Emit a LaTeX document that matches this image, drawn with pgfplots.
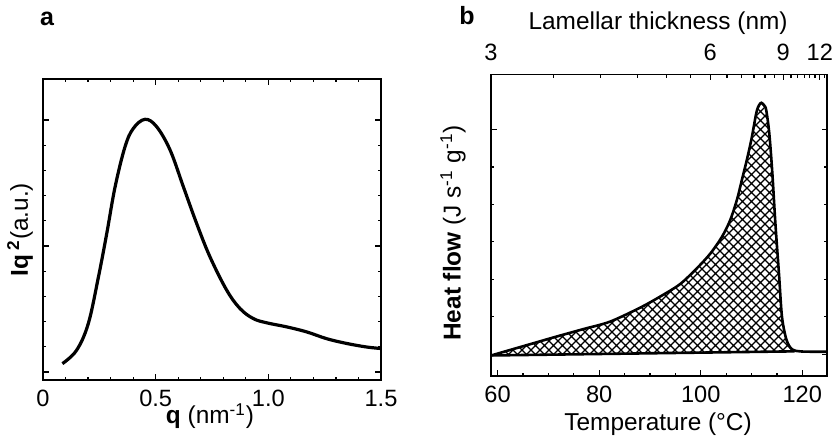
\documentclass[border=0pt]{standalone}
\usepackage{fontspec}
\setmainfont{Liberation Sans}
\usepackage{pgfplots}
\pgfplotsset{compat=1.18}
\usetikzlibrary{patterns}

\pgfdeclarepatternformonly{mycross}{\pgfqpoint{-0.5pt}{-0.5pt}}{\pgfqpoint{5pt}{5pt}}{\pgfqpoint{4.5pt}{4.5pt}}{
  \pgfsetlinewidth{0.7pt}
  \pgfpathmoveto{\pgfqpoint{-0.3pt}{-0.3pt}}\pgfpathlineto{\pgfqpoint{4.8pt}{4.8pt}}
  \pgfpathmoveto{\pgfqpoint{-0.3pt}{4.8pt}}\pgfpathlineto{\pgfqpoint{4.8pt}{-0.3pt}}
  \pgfusepath{stroke}
}

\pgfplotsset{
  common/.style={
    scale only axis,
    anchor=south west,
    tick align=inside,
    major tick length=2.8pt,
    minor tick length=1.6pt,
    axis line style={line width=0.8pt},
    every tick/.style={black, line width=0.6pt},
    /pgf/number format/assume math mode=true,
    ticklabel style={font=\fontsize{11.8}{13}\selectfont},
    label style={font=\fontsize{12.2}{14}\selectfont},
  }
}

\begin{document}
\begin{tikzpicture}
\useasboundingbox (0,0) rectangle (418pt,220pt);

% ---------------- panel a ----------------
\begin{axis}[common,
  at={(21.5pt,30pt)},
  width=169pt, height=150.5pt,
  xmin=0, xmax=1.5, ymin=-0.32, ymax=11.63,
  xtick={0,0.5,1,1.5}, xticklabels={0,0.5,1.0,1.5},
  minor x tick num=4,
  ytick={0,5,10}, yticklabels={}, minor y tick num=4,
  xticklabel style={yshift=-1.5pt},
  xlabel={\textbf{q} (nm\textsuperscript{-1})},
  ylabel={\textbf{Iq}\,\textsuperscript{\textbf{2}}(a.u.)},
  xlabel style={at={(axis description cs:0.494,-0.12)}, anchor=center},
  ylabel style={at={(axis description cs:-0.068,0.5)}, anchor=center},
]
\addplot[black, line width=1.6pt, smooth, tension=0.6] coordinates {
(0.086,0.33) (0.149,0.86) (0.201,1.92) (0.246,3.77) (0.283,5.5) (0.320,7.35)
(0.364,8.94) (0.401,9.67) (0.453,10.03) (0.504,9.74) (0.564,8.81) (0.623,7.35)
(0.682,5.89) (0.741,4.57) (0.815,3.25) (0.874,2.52) (0.933,2.12) (0.993,1.95)
(1.081,1.79) (1.170,1.59) (1.259,1.32) (1.348,1.13) (1.436,0.99) (1.5,0.93)
};
\end{axis}

% ---------------- panel b ----------------
\begin{axis}[common,
  at={(245.5pt,32.15pt)},
  width=168.1pt, height=150.5pt,
  xmin=58.7, xmax=124.9, ymin=-0.57, ymax=7.46,
  xtick={60,80,100,120}, minor x tick num=3,
  xtick pos=left,
  xticklabel style={yshift=-1.5pt},
  ytick={0,6}, yticklabels={}, minor y tick num=5,
  xlabel={Temperature (°C)},
  ylabel={\textbf{Heat flow} (J s\textsuperscript{-1} g\textsuperscript{-1})},
  xlabel style={at={(axis description cs:0.497,-0.16)}, anchor=center},
  ylabel style={at={(axis description cs:-0.113,0.474)}, anchor=center},
]
% hatched area between the melting curve and the baseline
\addplot[pattern=mycross, draw=none, smooth, tension=0.5] coordinates {
(58.7,-0.03) (59.0,-0.02) (62.3,0.11) (66.9,0.29) (71.5,0.47) (76.8,0.67)
(82.1,0.87) (88.0,1.24) (92.0,1.54) (95.9,1.87) (99.2,2.29) (101.9,2.69)
(104.2,3.14) (105.8,3.58) (107.1,4.11) (108.1,4.65) (109.1,5.2) (110.0,5.75)
(110.96,6.45) (111.5,6.65) (111.95,6.71) (112.5,6.64) (112.9,6.51) (113.5,5.89)
(114.1,4.83) (114.7,3.49) (115.4,2.16) (116.0,1.0) (116.9,0.38) (118.0,0.13)
(118.5,0.08) (110,0.065) (90,0.028) (70,-0.009) (58.7,-0.03)
};
\addplot[black, line width=1.3pt, smooth, tension=0.5] coordinates {
(58.7,-0.03) (59.0,-0.02) (62.3,0.11) (66.9,0.29) (71.5,0.47) (76.8,0.67)
(82.1,0.87) (88.0,1.24) (92.0,1.54) (95.9,1.87) (99.2,2.29) (101.9,2.69)
(104.2,3.14) (105.8,3.58) (107.1,4.11) (108.1,4.65) (109.1,5.2) (110.0,5.75)
(110.96,6.45) (111.5,6.65) (111.95,6.71) (112.5,6.64) (112.9,6.51) (113.5,5.89)
(114.1,4.83) (114.7,3.49) (115.4,2.16) (116.0,1.0) (116.9,0.38) (118.0,0.13)
(119.5,0.08) (121.6,0.07) (124.9,0.07)
};
\addplot[black, line width=1.3pt] coordinates {(58.7,-0.03) (118.5,0.08)};
\end{axis}

% top axis: lamellar thickness
\begin{axis}[common,
  at={(245.5pt,32.15pt)},
  width=168.1pt, height=150.5pt,
  xmin=58.7, xmax=124.9, ymin=-0.57, ymax=7.46,
  hide y axis,
  axis x line*=top,
  x axis line style={draw=none},
  xticklabel style={yshift=3.5pt},
  xtick={58.7,101.86,116.25,123.45}, xticklabels={3,6,9,12},
  minor xtick={71.03,80.28,87.47,93.23,97.94,105.18,108.03,110.5,112.66,114.56,117.77,119.13,120.36,121.48,122.51,124.31},
  xlabel={Lamellar thickness (nm)},
  xlabel style={at={(axis description cs:0.497,1.172)}, anchor=center},
]
\addplot[draw=none] coordinates {(60,0) (120,0)};
\end{axis}

\node[font=\bfseries\fontsize{12.5}{14}\selectfont] at (23.5pt,210.5pt) {a};
\node[font=\bfseries\fontsize{12.5}{14}\selectfont] at (233.5pt,212pt) {b};
\end{tikzpicture}
\end{document}
